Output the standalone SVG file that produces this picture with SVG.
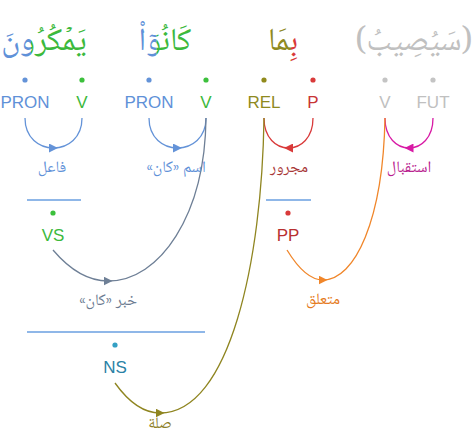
<svg xmlns="http://www.w3.org/2000/svg" width="476" height="438" viewBox="0 0 476 438">
<style>
.lat{font-family:"Liberation Sans",Arial,sans-serif;font-size:17px;text-anchor:middle}
.ar{font-family:"Noto Naskh Arabic","Noto Sans Arabic","DejaVu Sans",sans-serif;text-anchor:middle;direction:rtl}
.word{font-size:32px}
.lab{font-size:16px}
.arc{fill:none;stroke-width:1.3}
.hl{stroke:#6a9fe0;stroke-width:1.3}
</style>
<defs>
<clipPath id="c1a"><rect x="0" y="0" width="31" height="80"/></clipPath>
<clipPath id="c1b"><rect x="31" y="0" width="80" height="80"/></clipPath>
<clipPath id="c2a"><rect x="100" y="0" width="56.5" height="80"/></clipPath>
<clipPath id="c2b"><rect x="156.5" y="0" width="80" height="80"/></clipPath>
<clipPath id="c3a"><rect x="240" y="0" width="51" height="80"/></clipPath>
<clipPath id="c3b"><rect x="291" y="0" width="40" height="80"/></clipPath>
<marker id="mBlue" viewBox="0 0 10 10" refX="5" refY="5" markerWidth="9" markerHeight="9" markerUnits="userSpaceOnUse" orient="auto"><path d="M0,0 L10,5 L0,10 z" fill="#6493d8"/></marker>
<marker id="mRed" viewBox="0 0 10 10" refX="5" refY="5" markerWidth="9" markerHeight="9" markerUnits="userSpaceOnUse" orient="auto"><path d="M0,0 L10,5 L0,10 z" fill="#d93a3a"/></marker>
<marker id="mMag" viewBox="0 0 10 10" refX="5" refY="5" markerWidth="9" markerHeight="9" markerUnits="userSpaceOnUse" orient="auto"><path d="M0,0 L10,5 L0,10 z" fill="#d81aa5"/></marker>
<marker id="mGrey" viewBox="0 0 10 10" refX="5" refY="5" markerWidth="9" markerHeight="9" markerUnits="userSpaceOnUse" orient="auto"><path d="M0,0 L10,5 L0,10 z" fill="#6e7f96"/></marker>
<marker id="mOlive" viewBox="0 0 10 10" refX="5" refY="5" markerWidth="9" markerHeight="9" markerUnits="userSpaceOnUse" orient="auto"><path d="M0,0 L10,5 L0,10 z" fill="#8f8520"/></marker>
<marker id="mOrange" viewBox="0 0 10 10" refX="5" refY="5" markerWidth="9" markerHeight="9" markerUnits="userSpaceOnUse" orient="auto"><path d="M0,0 L10,5 L0,10 z" fill="#f0862a"/></marker>
</defs>

<g id="word1">
<text class="ar word" x="44" y="50" fill="#5f91d8" clip-path="url(#c1a)">يَمۡكُرُونَ</text>
<text class="ar word" x="44" y="50" fill="#3cb93c" clip-path="url(#c1b)">يَمۡكُرُونَ</text>
</g>
<g id="word2">
<text class="ar word" x="165" y="50" fill="#5f91d8" clip-path="url(#c2a)">كَانُوٓاْ</text>
<text class="ar word" x="165" y="50" fill="#3cb93c" clip-path="url(#c2b)">كَانُوٓاْ</text>
</g>
<g id="word3">
<text class="ar word" x="283" y="50" fill="#8f8a1f" clip-path="url(#c3a)">بِمَا</text>
<text class="ar word" x="283" y="50" fill="#d93a3a" clip-path="url(#c3b)">بِمَا</text>
</g>
<g id="word4">
<text class="ar word" x="414" y="50" fill="#c0c0c0">(سَيُصِيبُ)</text>
</g>

<g id="n-pron1"><circle cx="25" cy="80" r="2.6" fill="#6493d8"/><text class="lat" x="25" y="108" fill="#5f91d8">PRON</text></g>
<g id="n-v1"><circle cx="82" cy="80" r="2.6" fill="#3cc03c"/><text class="lat" x="82" y="108" fill="#3cb93c">V</text></g>
<g id="n-pron2"><circle cx="149" cy="80" r="2.6" fill="#6493d8"/><text class="lat" x="149" y="108" fill="#5f91d8">PRON</text></g>
<g id="n-v2"><circle cx="206" cy="80" r="2.6" fill="#3cc03c"/><text class="lat" x="206" y="108" fill="#3cb93c">V</text></g>
<g id="n-rel"><circle cx="264" cy="80" r="2.6" fill="#918a1c"/><text class="lat" x="264" y="108" fill="#8f8a1f">REL</text></g>
<g id="n-p"><circle cx="313" cy="80" r="2.6" fill="#d93a3a"/><text class="lat" x="313" y="108" fill="#c83535">P</text></g>
<g id="n-v3"><circle cx="385" cy="80" r="2.6" fill="#c4c4c4"/><text class="lat" x="385" y="108" fill="#c0c0c0">V</text></g>
<g id="n-fut"><circle cx="433" cy="80" r="2.6" fill="#c4c4c4"/><text class="lat" x="433" y="108" fill="#c0c0c0">FUT</text></g>

<g id="n-vs"><line class="hl" x1="27" y1="200" x2="81" y2="200"/><circle cx="53" cy="213" r="2.6" fill="#3cc03c"/><text class="lat" x="53" y="241" fill="#3cb93c">VS</text></g>
<g id="n-pp"><line class="hl" x1="266" y1="200" x2="311" y2="200"/><circle cx="288" cy="213" r="2.6" fill="#d93a3a"/><text class="lat" x="288" y="241" fill="#b83030">PP</text></g>
<g id="n-ns"><line class="hl" x1="27" y1="332" x2="205" y2="332"/><circle cx="115" cy="345" r="2.6" fill="#34a0c4"/><text class="lat" x="115" y="373" fill="#2a82a6">NS</text></g>

<g id="connectors">
<path class="arc" stroke="#6493d8" marker-mid="url(#mBlue)" d="M25 118 C25 138 39.25 148 53.5 148 C67.75 148 82 138 82 118"/>
<path class="arc" stroke="#6493d8" marker-mid="url(#mBlue)" d="M149 118 C149 138 163.25 148 177.5 148 C191.75 148 206 138 206 118"/>
<path class="arc" stroke="#d93a3a" marker-mid="url(#mRed)" d="M313 118 C313 138 300.75 148 288.5 148 C276.25 148 264 138 264 118"/>
<path class="arc" stroke="#d81aa5" marker-mid="url(#mMag)" d="M433 118 C433 138 421 148 409 148 C397 148 385 138 385 118"/>
<path class="arc" stroke="#6e7f96" marker-mid="url(#mGrey)" d="M53 250 C70 270 88 281 108 281 C160 281 205 215 206 118"/>
<path class="arc" stroke="#8f8520" marker-mid="url(#mOlive)" d="M115 383 C130 404 145 413 160 413 C230 413 262 260 264 118"/>
<path class="arc" stroke="#f0862a" marker-mid="url(#mOrange)" d="M287 250 C298 268 310 280 323 280 C355 280 383 220 385 118"/>
<text class="ar lab" x="52" y="172" fill="#5f91d8">فاعل</text>
<text class="ar lab" x="176" y="172" fill="#5f91d8">اسم «كان»</text>
<text class="ar lab" x="289" y="172" fill="#a83838">مجرور</text>
<text class="ar lab" x="409" y="172" fill="#b8208e">استقبال</text>
<text class="ar lab" x="108" y="305" fill="#6b7a90">خبر «كان»</text>
<text class="ar lab" x="323" y="304" fill="#e57a20">متعلق</text>
<text class="ar lab" x="160" y="428" fill="#8d802a">صلة</text>
</g>
</svg>
